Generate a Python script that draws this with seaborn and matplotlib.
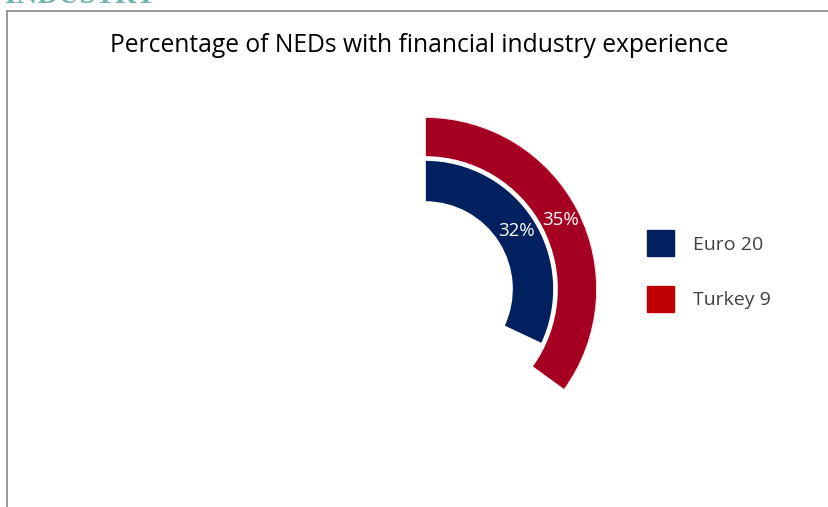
import numpy as np
import matplotlib
matplotlib.use("Agg")
import matplotlib.pyplot as plt
from matplotlib.patches import Patch
from matplotlib.lines import Line2D
import seaborn as sns

# Data
series = ["Euro 20", "Turkey 9"]
values = [32, 35]                       # percent of NEDs
ring_colors = ["#002060", "#A50021"]
legend_colors = ["#002060", "#C00000"]
title = "Percentage of NEDs with financial industry experience"

sns.set_theme(style="white")
plt.rcParams["font.family"] = ["Open Sans", "DejaVu Sans"]

W, H = 829, 507
fig = plt.figure(figsize=(W / 100, H / 100), dpi=100)
fig.patch.set_facecolor("white")

# polar axes: centre at (425, 289) px, outer radius 172 px
cx, cy, R = 425, 289, 172
ax = fig.add_axes([(cx - R) / W, (H - cy - R) / H, 2 * R / W, 2 * R / H],
                  projection="polar")
ax.set_theta_zero_location("N")
ax.set_theta_direction(-1)
ax.set_ylim(0, R)
ax.set_axis_off()

# ring radii (inner, outer) for each series
rings = [(87, 129), (132, 172)]
for val, col, (r0, r1) in zip(values, ring_colors, rings):
    span = 2 * np.pi * val / 100
    ax.bar(0, r1 - r0, width=span, bottom=r0, align="edge",
           color=col, edgecolor="white", linewidth=1.2)
    ax.text(span / 2, (r0 + r1) / 2, f"{val}%", color="white",
            fontsize=13.5, ha="center", va="center")

# title
fig.text(419.5 / W, 1 - 51.5 / H, title, ha="center", va="baseline",
         fontsize=17.7, color="#000000")

# legend
handles = [Patch(facecolor=c, edgecolor=c) for c in legend_colors]
leg = fig.legend(handles, series, loc="center left",
                 bbox_to_anchor=(630 / W, 1 - 271 / H),
                 frameon=False, fontsize=14, handlelength=1.35,
                 handleheight=1.7, handletextpad=1.0, labelspacing=1.5)
for t in leg.get_texts():
    t.set_color("#404040")

# frame of the panel
fig.add_artist(Line2D([6.7 / W, 1], [1 - 10.7 / H] * 2, color="#888888",
                      linewidth=1.2, transform=fig.transFigure))
fig.add_artist(Line2D([6.7 / W] * 2, [0, 1 - 10.7 / H], color="#888888",
                      linewidth=1.2, transform=fig.transFigure))

# section heading above the panel (runs off the top edge)
fig.text(5 / W, 1 - 3 / H, "INDUSTRY", ha="left", va="baseline",
         fontsize=21, fontweight="bold", color="#6FB5AD",
         family=["Liberation Serif", "DejaVu Serif"])

fig.savefig("out.png", dpi=100, facecolor="white")
